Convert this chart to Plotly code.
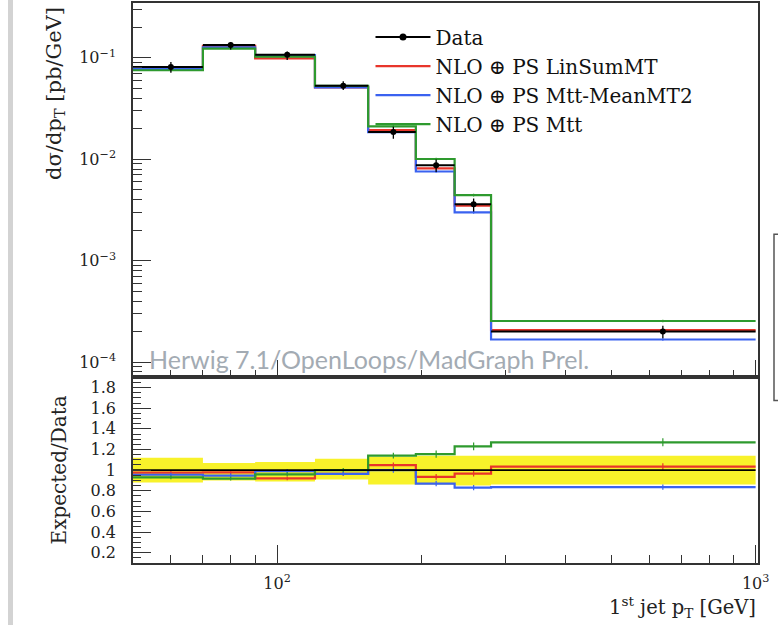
import math
import plotly.graph_objects as go
from plotly.subplots import make_subplots

# ---------------- data ----------------
edges = [50, 70, 90, 120, 155, 195, 235, 280, 1000]
data = [0.081, 0.134, 0.107, 0.053, 0.0185, 0.0087, 0.0036, 0.0002]
data_err_up = [0.12, 0.07, 0.08, 0.11, 0.13, 0.14, 0.14, 0.14]   # relative
data_err_dn = [0.12, 0.10, 0.11, 0.09, 0.14, 0.14, 0.15, 0.14]   # relative
mc_linsum = [0.079, 0.131, 0.0985, 0.0511, 0.0194, 0.00813, 0.00348, 0.000207]
mc_meanmt2 = [0.0774, 0.127, 0.106, 0.0511, 0.0185, 0.00757, 0.00299, 0.000167]
mc_mtt = [0.0753, 0.123, 0.1027, 0.053, 0.0211, 0.01005, 0.00443, 0.000254]
mc_rel_err = [0.02, 0.02, 0.02, 0.02, 0.025, 0.03, 0.03, 0.03]

series = [
    ("NLO ⊕ PS LinSumMT", mc_linsum, "#e8352b"),
    ("NLO ⊕ PS Mtt-MeanMT2", mc_meanmt2, "#3a62f0"),
    ("NLO ⊕ PS Mtt", mc_mtt, "#2e9a2e"),
]

ytickvals = [1e-4, 1e-3, 1e-2, 1e-1]
yticktext = ["10<sup>−4</sup>", "10<sup>−3</sup>", "10<sup>−2</sup>", "10<sup>−1</sup>"]
rtickvals = [0.2, 0.4, 0.6, 0.8, 1.0, 1.2, 1.4, 1.6, 1.8]
rticktext = ["0.2", "0.4", "0.6", "0.8", "1", "1.2", "1.4", "1.6", "1.8"]
xtickvals = [100, 1000]
xticktext = ["10<sup>2</sup>", "10<sup>3</sup>"]

SERIF = "DejaVu Serif"
FRAME = "#333333"
TXT = "#222222"

centers = [(lo + hi) / 2 for lo, hi in zip(edges[:-1], edges[1:])]
xerr_p = [hi - c for hi, c in zip(edges[1:], centers)]
xerr_m = [c - lo for lo, c in zip(edges[:-1], centers)]

fig = make_subplots(rows=2, cols=1, shared_xaxes=True, vertical_spacing=0,
                    row_heights=[0.6684, 0.3316])

# legend proxy for Data (line + marker)
fig.add_trace(go.Scatter(x=[None], y=[None], mode="lines+markers", name="Data",
                         line=dict(color="black", width=2), marker=dict(color="black", size=7)),
              row=1, col=1)

# ---------- main panel: MC ----------
for name, vals, col in series:
    fig.add_trace(go.Scatter(x=edges, y=vals + [vals[-1]], mode="lines",
                             line=dict(color=col, width=2.2, shape="hv"),
                             name=name, showlegend=True), row=1, col=1)
    fig.add_trace(go.Scatter(x=centers, y=vals, mode="markers",
                             marker=dict(size=1, color=col),
                             error_y=dict(type="data", array=[v * e for v, e in zip(vals, mc_rel_err)],
                                          color=col, thickness=1.2, width=0),
                             showlegend=False, hoverinfo="skip"), row=1, col=1)

# ---------- main panel: data ----------
fig.add_trace(go.Scatter(
    x=centers, y=data, mode="markers",
    marker=dict(color="black", size=6),
    error_x=dict(type="data", symmetric=False, array=xerr_p, arrayminus=xerr_m,
                 color="black", thickness=2, width=0),
    error_y=dict(type="data", symmetric=False,
                 array=[d * e for d, e in zip(data, data_err_up)],
                 arrayminus=[d * e for d, e in zip(data, data_err_dn)],
                 color="black", thickness=1.3, width=0),
    showlegend=False, name="Data"), row=1, col=1)

# ---------- ratio panel ----------
band_up = [1 + e for e in data_err_up]
band_dn = [1 - e for e in data_err_dn]
fig.add_trace(go.Scatter(x=edges, y=band_dn + [band_dn[-1]], mode="lines",
                         line=dict(width=0, shape="hv", color="#f8f22a"),
                         showlegend=False, hoverinfo="skip"), row=2, col=1)
fig.add_trace(go.Scatter(x=edges, y=band_up + [band_up[-1]], mode="lines",
                         line=dict(width=0, shape="hv", color="#f8f22a"),
                         fill="tonexty", fillcolor="#f8f22a",
                         showlegend=False, hoverinfo="skip"), row=2, col=1)
for name, vals, col in series:
    ratio = [m / d for m, d in zip(vals, data)]
    fig.add_trace(go.Scatter(x=edges, y=ratio + [ratio[-1]], mode="lines",
                             line=dict(color=col, width=2.2, shape="hv"),
                             showlegend=False), row=2, col=1)
    fig.add_trace(go.Scatter(x=centers, y=ratio, mode="markers",
                             marker=dict(size=1, color=col),
                             error_y=dict(type="data", array=[r * e for r, e in zip(ratio, mc_rel_err)],
                                          color=col, thickness=1.2, width=0),
                             showlegend=False, hoverinfo="skip"), row=2, col=1)
data_ratio = [d / d for d in data]
fig.add_trace(go.Scatter(x=edges, y=data_ratio + [data_ratio[-1]], mode="lines",
                         line=dict(color="black", width=1.6, shape="hv"),
                         showlegend=False), row=2, col=1)

# ---------- axes ----------
xminor = [60, 70, 80, 90, 200, 300, 400, 500, 600, 700, 800, 900]
common_x = dict(type="log", range=[math.log10(50), 3.005], showgrid=False, zeroline=False,
                showline=True, linecolor=FRAME, linewidth=1.5, mirror=True,
                ticks="inside", ticklen=18, tickwidth=1.3, tickcolor=FRAME,
                tickmode="array", tickvals=xtickvals, ticktext=xticktext,
                minor=dict(tickmode="array", tickvals=xminor, ticks="inside", ticklen=8,
                           tickwidth=1.2, tickcolor=FRAME, showgrid=False))
fig.update_xaxes(**common_x, row=1, col=1, showticklabels=False)
fig.update_xaxes(**common_x, row=2, col=1, showticklabels=True,
                 tickfont=dict(family=SERIF, size=16, color=TXT), ticklabelstandoff=5)

yminor = [m * 10 ** p for p in range(-5, 0) for m in range(2, 10)]
fig.update_yaxes(type="log", range=[-4.15, -0.46], showgrid=False, zeroline=False,
                 showline=True, linecolor=FRAME, linewidth=1.5, mirror=True,
                 ticks="inside", ticklen=18, tickwidth=1.3, tickcolor=FRAME,
                 tickmode="array", tickvals=ytickvals, ticktext=yticktext,
                 tickfont=dict(family=SERIF, size=16, color=TXT), ticklabelstandoff=12,
                 minor=dict(tickmode="array", tickvals=yminor, ticks="inside", ticklen=9,
                            tickwidth=1.2, tickcolor=FRAME, showgrid=False),
                 row=1, col=1)
rminor = [round(0.1 + 0.05 * i, 2) for i in range(0, 37)]
fig.update_yaxes(range=[0.1, 1.9], showgrid=False, zeroline=False,
                 showline=True, linecolor=FRAME, linewidth=1.5, mirror=True,
                 ticks="inside", ticklen=18, tickwidth=1.3, tickcolor=FRAME,
                 tickmode="array", tickvals=rtickvals, ticktext=rticktext,
                 tickfont=dict(family=SERIF, size=16, color=TXT), ticklabelstandoff=12,
                 minor=dict(tickmode="array", tickvals=rminor, ticks="inside", ticklen=8,
                            tickwidth=1.2, tickcolor=FRAME, showgrid=False),
                 row=2, col=1)

# ---------- annotations ----------
annos = [
    dict(text="dσ/dp<sub>T</sub> [pb/GeV]", x=-0.126, y=0.838, xref="paper", yref="paper",
         textangle=-90, showarrow=False, font=dict(family=SERIF, size=21, color=TXT),
         xanchor="center", yanchor="middle"),
    dict(text="Expected/Data", x=-0.118, y=0.1658, xref="paper", yref="paper",
         textangle=-90, showarrow=False, font=dict(family=SERIF, size=20, color=TXT),
         xanchor="center", yanchor="middle"),
    dict(text="1<sup>st</sup> jet p<sub>T</sub> [GeV]", x=1.0, y=-0.078, xref="paper", yref="paper",
         showarrow=False, font=dict(family=SERIF, size=19.5, color=TXT),
         xanchor="right", yanchor="middle"),
    dict(text="Herwig 7.1/OpenLoops/MadGraph Prel.", x=0.022, y=0.334, xref="paper", yref="paper",
         showarrow=False, font=dict(family="Lato", size=25, color="#a3abb3"),
         xanchor="left", yanchor="bottom"),
]

shapes = [
    dict(type="rect", xref="paper", yref="paper", x0=(8 - 133) / 625, x1=(13 - 133) / 625,
         y0=-0.2, y1=1.01, fillcolor="#d3d3d3", line=dict(width=0), layer="below"),
    dict(type="rect", xref="paper", yref="paper", x0=(774 - 133) / 625, x1=(790 - 133) / 625,
         y0=(563 - 400) / 562, y1=(563 - 233) / 562,
         line=dict(color="#555", width=1.5), fillcolor="rgba(0,0,0,0)"),
]

fig.update_layout(
    width=778, height=625,
    margin=dict(l=133, r=20, t=1, b=62),
    paper_bgcolor="white", plot_bgcolor="white",
    font=dict(family=SERIF, color=TXT),
    annotations=annos, shapes=shapes,
    legend=dict(x=0.38, y=0.974, xanchor="left", yanchor="top",
                font=dict(family=SERIF, size=20, color="#111"),
                bgcolor="rgba(0,0,0,0)", itemwidth=55, tracegroupgap=0,
                traceorder="normal"),
)

fig.write_html("out.html")
